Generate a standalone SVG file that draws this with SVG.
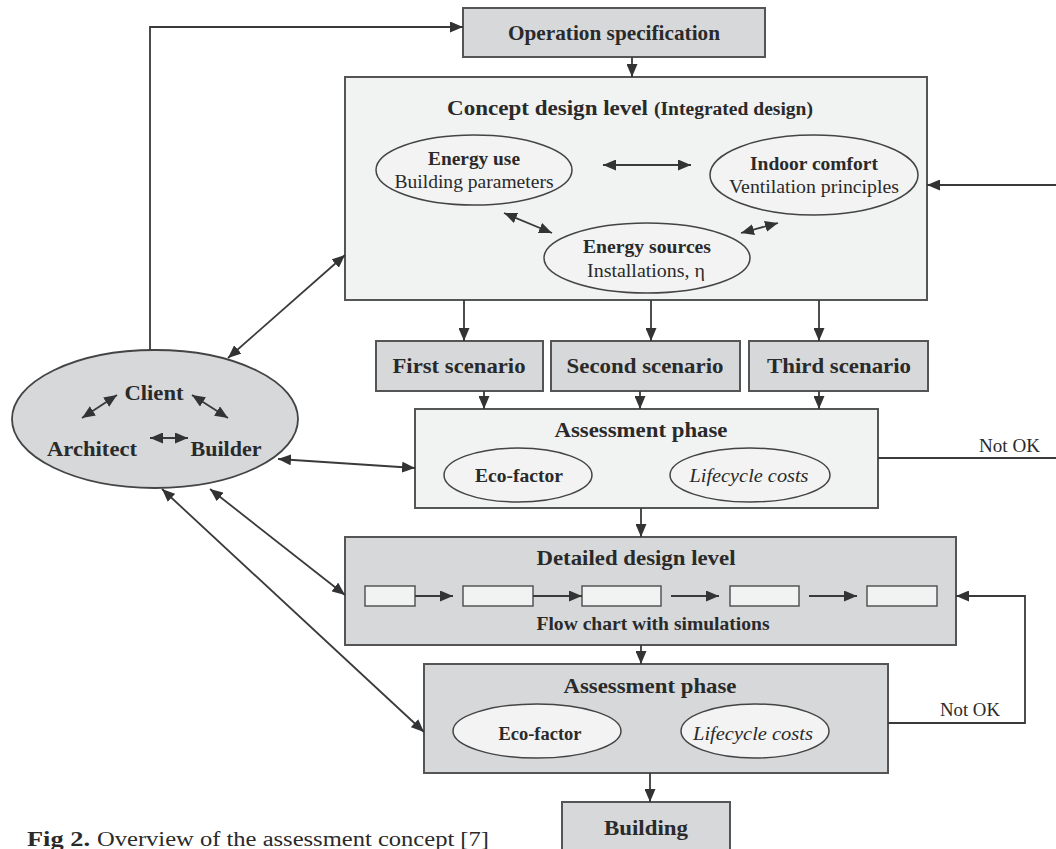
<svg xmlns="http://www.w3.org/2000/svg" width="1056" height="849" viewBox="0 0 1056 849">
<defs>
<marker id="ah" viewBox="0 0 13 11" refX="13" refY="5.5" markerWidth="13" markerHeight="11" markerUnits="userSpaceOnUse" orient="auto-start-reverse">
<path d="M0,0 L13,5.5 L0,11 z" fill="#333"/>
</marker>
<style>
.gray{fill:#d6d8da;stroke:#555;stroke-width:2}
.light{fill:#f1f2f2;stroke:#555;stroke-width:2}
.ell{fill:#f3f3f3;stroke:#444;stroke-width:1.5}
.con{fill:none;stroke:#3a3a3a;stroke-width:1.8}
text{font-family:"Liberation Serif","Times New Roman",serif;fill:#2a2a2a}
.b{font-weight:bold;font-size:21px}
.r{font-size:19px}
.m{text-anchor:middle}
.i{font-style:italic}
</style>
</defs>
<rect width="1056" height="849" fill="#ffffff"/>

<g id="op-spec">
<rect class="gray" x="463" y="8" width="302" height="49"/>
<text class="b m" x="614" y="40" style="font-size:22px" textLength="212" lengthAdjust="spacingAndGlyphs">Operation specification</text>
</g>

<g id="concept">
<rect class="light" x="345" y="77" width="582" height="223"/>
<text x="447" y="115"><tspan class="b" textLength="201" lengthAdjust="spacingAndGlyphs">Concept design level</tspan><tspan x="654" style="font-weight:bold;font-size:18px" textLength="159" lengthAdjust="spacingAndGlyphs">(Integrated design)</tspan></text>
</g>

<g id="energy-use">
<ellipse class="ell" cx="474" cy="170" rx="98" ry="35"/>
<text class="b m" x="474" y="165" style="font-size:19px" textLength="92" lengthAdjust="spacingAndGlyphs">Energy use</text>
<text class="r m" x="474" y="188" textLength="159" lengthAdjust="spacingAndGlyphs">Building parameters</text>
</g>

<g id="indoor-comfort">
<ellipse class="ell" cx="814" cy="175" rx="104" ry="40"/>
<text class="b m" x="814" y="170" style="font-size:19px" textLength="128" lengthAdjust="spacingAndGlyphs">Indoor comfort</text>
<text class="r m" x="814" y="193" textLength="170" lengthAdjust="spacingAndGlyphs">Ventilation principles</text>
</g>

<g id="energy-sources">
<ellipse class="ell" cx="647" cy="258" rx="103" ry="35"/>
<text class="b m" x="647" y="253" style="font-size:19px" textLength="128" lengthAdjust="spacingAndGlyphs">Energy sources</text>
<text class="r m" x="646" y="277" textLength="118" lengthAdjust="spacingAndGlyphs">Installations, η</text>
</g>

<g id="first-scenario">
<rect class="gray" x="376" y="341" width="167" height="50"/>
<text class="b m" x="459" y="373" textLength="133" lengthAdjust="spacingAndGlyphs">First scenario</text>
</g>
<g id="second-scenario">
<rect class="gray" x="551" y="341" width="189" height="50"/>
<text class="b m" x="645" y="373" textLength="157" lengthAdjust="spacingAndGlyphs">Second scenario</text>
</g>
<g id="third-scenario">
<rect class="gray" x="749" y="341" width="179" height="50"/>
<text class="b m" x="839" y="373" textLength="144" lengthAdjust="spacingAndGlyphs">Third scenario</text>
</g>

<g id="assessment1">
<rect class="light" x="415" y="409" width="463" height="99"/>
<text class="b m" x="641" y="437" textLength="173" lengthAdjust="spacingAndGlyphs">Assessment phase</text>
<ellipse class="ell" cx="518" cy="475" rx="74" ry="27"/>
<text class="b m" x="519" y="482" style="font-size:19px" textLength="88" lengthAdjust="spacingAndGlyphs">Eco-factor</text>
<ellipse class="ell" cx="750" cy="475" rx="80" ry="27"/>
<text class="r m i" x="749" y="482" textLength="119" lengthAdjust="spacingAndGlyphs">Lifecycle costs</text>
<text class="r" x="979" y="452" style="font-size:18px" textLength="61" lengthAdjust="spacingAndGlyphs">Not OK</text>
</g>

<g id="detailed">
<rect class="gray" x="345" y="537" width="611" height="108"/>
<text class="b m" x="636" y="565" textLength="199" lengthAdjust="spacingAndGlyphs">Detailed design level</text>
<rect class="light" x="365" y="586" width="50" height="20" style="stroke-width:1.5"/>
<rect class="light" x="463" y="586" width="70" height="20" style="stroke-width:1.5"/>
<rect class="light" x="582" y="586" width="79" height="20" style="stroke-width:1.5"/>
<rect class="light" x="730" y="586" width="69" height="20" style="stroke-width:1.5"/>
<rect class="light" x="867" y="586" width="70" height="20" style="stroke-width:1.5"/>
<text class="b m" x="653" y="630" style="font-size:19px" textLength="233" lengthAdjust="spacingAndGlyphs">Flow chart with simulations</text>
</g>

<g id="assessment2">
<rect class="gray" x="424" y="664" width="464" height="109"/>
<text class="b m" x="650" y="693" textLength="173" lengthAdjust="spacingAndGlyphs">Assessment phase</text>
<ellipse class="ell" cx="537" cy="731" rx="84" ry="27"/>
<text class="b m" x="540" y="740" style="font-size:19px" textLength="83" lengthAdjust="spacingAndGlyphs">Eco-factor</text>
<ellipse class="ell" cx="755" cy="731" rx="74" ry="27"/>
<text class="r m i" x="753" y="740" textLength="120" lengthAdjust="spacingAndGlyphs">Lifecycle costs</text>
<text class="r" x="940" y="716" style="font-size:18px" textLength="60" lengthAdjust="spacingAndGlyphs">Not OK</text>
</g>

<g id="building">
<rect class="gray" x="562" y="802" width="168" height="60"/>
<text class="b m" x="646" y="835" textLength="84" lengthAdjust="spacingAndGlyphs">Building</text>
</g>

<g id="actors">
<ellipse cx="155" cy="419" rx="143" ry="69" fill="#d6d8da" stroke="#444" stroke-width="1.8"/>
<text class="b m" x="154" y="400" style="font-size:22px" textLength="59" lengthAdjust="spacingAndGlyphs">Client</text>
<text class="b m" x="92" y="456" style="font-size:22px" textLength="90" lengthAdjust="spacingAndGlyphs">Architect</text>
<text class="b m" x="226" y="456" style="font-size:22px" textLength="71" lengthAdjust="spacingAndGlyphs">Builder</text>
</g>

<g id="connectors">
<polyline class="con" points="150,350 150,27 463,27" marker-end="url(#ah)"/>
<line class="con" x1="632" y1="57" x2="632" y2="77" marker-end="url(#ah)"/>
<line class="con" x1="1056" y1="185" x2="927" y2="185" marker-end="url(#ah)"/>
<line class="con" x1="603" y1="165" x2="691" y2="165" marker-start="url(#ah)" marker-end="url(#ah)"/>
<line class="con" x1="504" y1="213" x2="552" y2="233" marker-start="url(#ah)" marker-end="url(#ah)"/>
<line class="con" x1="741" y1="233" x2="778" y2="223" marker-start="url(#ah)" marker-end="url(#ah)"/>
<line class="con" x1="464" y1="300" x2="464" y2="341" marker-end="url(#ah)"/>
<line class="con" x1="651" y1="300" x2="651" y2="341" marker-end="url(#ah)"/>
<line class="con" x1="819" y1="300" x2="819" y2="341" marker-end="url(#ah)"/>
<line class="con" x1="484" y1="391" x2="484" y2="409" marker-end="url(#ah)"/>
<line class="con" x1="640" y1="391" x2="640" y2="409" marker-end="url(#ah)"/>
<line class="con" x1="819" y1="391" x2="819" y2="409" marker-end="url(#ah)"/>
<line class="con" x1="878" y1="458" x2="1056" y2="458"/>
<line class="con" x1="641" y1="508" x2="641" y2="537" marker-end="url(#ah)"/>
<line class="con" x1="415" y1="596" x2="453" y2="596" marker-end="url(#ah)"/>
<line class="con" x1="533" y1="596" x2="582" y2="596" marker-end="url(#ah)"/>
<line class="con" x1="671" y1="596" x2="719" y2="596" marker-end="url(#ah)"/>
<line class="con" x1="809" y1="596" x2="857" y2="596" marker-end="url(#ah)"/>
<polyline class="con" points="888,723 1025,723 1025,596 956,596" marker-end="url(#ah)"/>
<line class="con" x1="641" y1="645" x2="641" y2="664" marker-end="url(#ah)"/>
<line class="con" x1="650" y1="773" x2="650" y2="802" marker-end="url(#ah)"/>
<line class="con" x1="228" y1="358" x2="345" y2="255" marker-start="url(#ah)" marker-end="url(#ah)"/>
<line class="con" x1="278" y1="459" x2="415" y2="468" marker-start="url(#ah)" marker-end="url(#ah)"/>
<line class="con" x1="210" y1="489" x2="345" y2="595" marker-start="url(#ah)" marker-end="url(#ah)"/>
<line class="con" x1="162" y1="489" x2="424" y2="732" marker-start="url(#ah)" marker-end="url(#ah)"/>
<line class="con" x1="82" y1="418" x2="117" y2="395" marker-start="url(#ah)" marker-end="url(#ah)"/>
<line class="con" x1="192" y1="395" x2="228" y2="418" marker-start="url(#ah)" marker-end="url(#ah)"/>
<line class="con" x1="150" y1="438" x2="188" y2="438" marker-start="url(#ah)" marker-end="url(#ah)"/>
</g>

<g id="caption">
<text x="27" y="846" style="font-size:20px"><tspan font-weight="bold" textLength="63" lengthAdjust="spacingAndGlyphs">Fig 2.</tspan><tspan x="97" textLength="392" lengthAdjust="spacingAndGlyphs">Overview of the assessment concept [7]</tspan></text>
</g>
</svg>
